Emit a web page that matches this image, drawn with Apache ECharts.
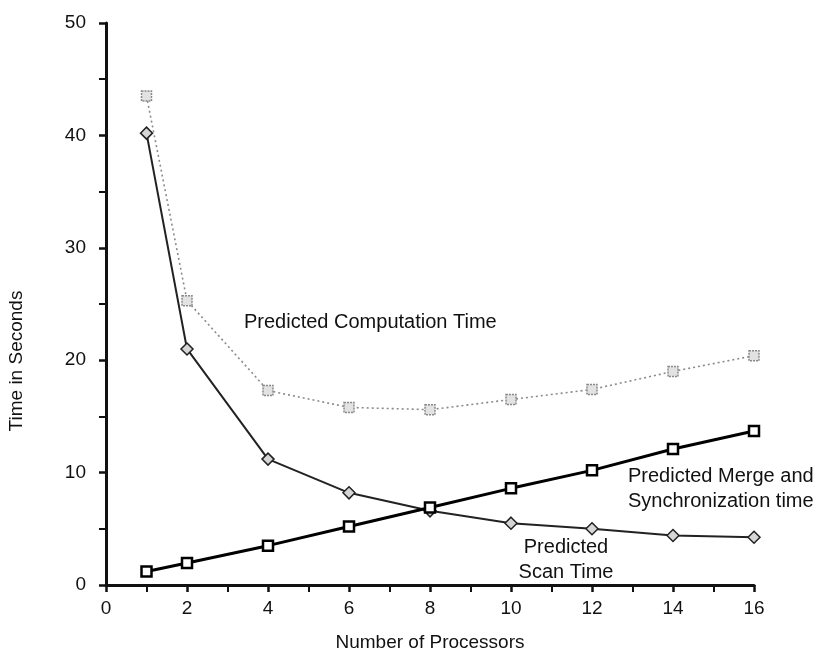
<!DOCTYPE html>
<html>
<head>
<meta charset="utf-8">
<script src="https://cdn.jsdelivr.net/npm/echarts@6/dist/echarts.min.js"></script>
<style>
  html, body { margin: 0; padding: 0; background: #fff; }
  #chart { width: 822px; height: 657px; }
</style>
</head>
<body>
<div id="chart"></div>
<script>
// Processor counts that were measured
const processors = [1, 2, 4, 6, 8, 10, 12, 14, 16];

// Predicted times in seconds for each processor count
const computationTime = [43.5, 25.3, 17.3, 15.8, 15.6, 16.5, 17.4, 19.0, 20.4];
const scanTime        = [40.2, 21.0, 11.2, 8.2, 6.6, 5.5, 5.0, 4.4, 4.25];
const mergeSyncTime   = [1.2, 1.95, 3.5, 5.2, 6.9, 8.6, 10.2, 12.1, 13.7];

// Axis ranges and tick steps
const xRange = { min: 0, max: 16, step: 2 };
const yRange = { min: 0, max: 50, step: 10 };

const FONT = '"Liberation Sans", Arial, Helvetica, sans-serif';
const INK = '#111';

const pairs = (ys) => processors.map((p, i) => [p, ys[i]]);

const chart = echarts.init(document.getElementById('chart'), null, { renderer: 'canvas' });

const axisCommon = {
  type: 'value',
  axisLine: { show: true, onZero: false, lineStyle: { color: INK, width: 3 } },
  axisTick: { show: true, inside: false, length: 7, lineStyle: { color: INK, width: 2.5 } },
  minorTick: { show: true, splitNumber: 2, length: 7, lineStyle: { color: INK, width: 2 } },
  splitLine: { show: false },
  axisLabel: { color: INK, fontFamily: FONT, fontSize: 19 }
};

chart.setOption({
  animation: false,
  backgroundColor: '#fff',
  grid: { left: 106, right: 68, top: 23, bottom: 69, containLabel: false },
  xAxis: Object.assign({}, axisCommon, {
    min: xRange.min, max: xRange.max, interval: xRange.step,
    axisLabel: Object.assign({}, axisCommon.axisLabel, { margin: 14 }),
    name: 'Number of Processors',
    nameLocation: 'middle',
    nameGap: 48,
    nameTextStyle: { color: INK, fontFamily: FONT, fontSize: 19 }
  }),
  yAxis: Object.assign({}, axisCommon, {
    min: yRange.min, max: yRange.max, interval: yRange.step,
    axisLabel: Object.assign({}, axisCommon.axisLabel, { margin: 20 })
  }),
  series: [
    {
      name: 'Predicted Computation Time',
      type: 'line',
      data: pairs(computationTime),
      symbol: 'rect',
      symbolSize: 10,
      lineStyle: { color: '#8a8a8a', width: 1.6, type: [2, 3] },
      itemStyle: { color: '#e2e2e2', borderColor: '#8a8a8a', borderWidth: 1.5, borderType: [2, 1] },
      z: 2
    },
    {
      name: 'Predicted Scan Time',
      type: 'line',
      data: pairs(scanTime),
      symbol: 'diamond',
      symbolSize: 12,
      lineStyle: { color: '#222', width: 2 },
      itemStyle: { color: '#d6d6d6', borderColor: '#222', borderWidth: 1.5 },
      z: 3
    },
    {
      name: 'Predicted Merge and Synchronization time',
      type: 'line',
      data: pairs(mergeSyncTime),
      symbol: 'rect',
      symbolSize: 10,
      lineStyle: { color: '#000', width: 3 },
      itemStyle: { color: '#fff', borderColor: '#000', borderWidth: 2.5 },
      z: 4
    }
  ],
  graphic: [
    {
      type: 'text', x: 17, y: 361, rotation: Math.PI / 2,
      style: { text: 'Time in Seconds', fill: INK, font: '19px ' + FONT, align: 'center', verticalAlign: 'middle' }
    },
    {
      type: 'text', x: 244, y: 322,
      style: { text: 'Predicted Computation Time', fill: INK, font: '20px ' + FONT, align: 'left', verticalAlign: 'middle' }
    },
    {
      type: 'text', x: 628, y: 464,
      style: { text: 'Predicted Merge and\nSynchronization time', fill: INK, font: '20px ' + FONT, lineHeight: 25, align: 'left', verticalAlign: 'top' }
    },
    {
      type: 'text', x: 566, y: 535,
      style: { text: 'Predicted\nScan Time', fill: INK, font: '20px ' + FONT, lineHeight: 25, align: 'center', verticalAlign: 'top' }
    }
  ]
});
</script>
</body>
</html>
